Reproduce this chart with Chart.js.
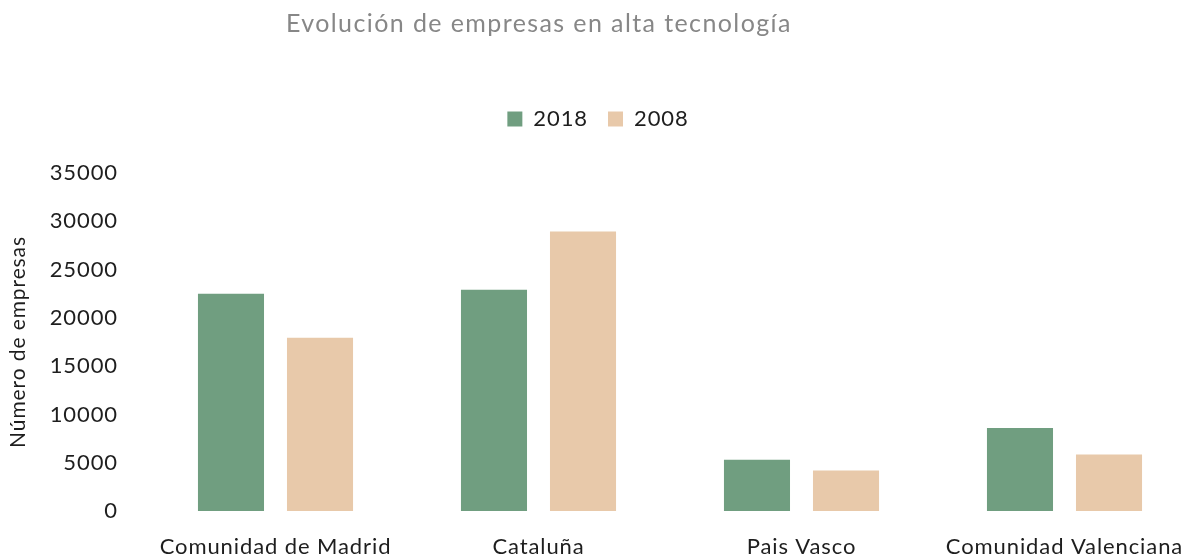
<!DOCTYPE html>
<html>
<head>
<meta charset="utf-8">
<script src="https://cdn.jsdelivr.net/npm/chart.js@4/dist/chart.umd.min.js"></script>
<style>
    body { margin: 0; background: #fff; overflow: hidden; }
    .wrap { position: relative; width: 1190px; height: 560px; overflow: hidden; }
    .title {
        position: absolute; left: 286px; top: 7px;
        font-family: Lato, sans-serif; font-size: 25px; color: #878787;
        letter-spacing: 1.4px; white-space: nowrap;
    }
    canvas { display: block; }
</style>
</head>
<body>
<div class="wrap">
    <div class="title">Evolución de empresas en alta tecnología</div>
    <!-- plot area runs a little past the right edge, as in the original -->
    <canvas class="chart" width="1196" height="560"></canvas>
</div>
<script>
const categories = ['Comunidad de Madrid', 'Cataluña', 'Pais Vasco', 'Comunidad Valenciana'];
const values2018 = [22500, 22900, 5300, 8600];
const values2008 = [17950, 28950, 4200, 5850];
const seriesLabels = ['2018', '2008'];

(() => {
    const el = document.querySelector('.chart');
    const colors = {
        green: 'rgb(112, 158, 128)',
        tan: 'rgb(232, 201, 170)',
        text: '#1e1e1e',
    };

    // canvas has no letter-spacing option in Chart.js, set it on the context
    const spacing = {
        id: 'spacing',
        beforeLayout(chart) { chart.ctx.letterSpacing = '0.9px'; },
        beforeDraw(chart) { chart.ctx.letterSpacing = '0.9px'; },
    };
    // more room under the legend
    const legendGap = {
        id: 'legendGap',
        beforeInit(chart) {
            const fit = chart.legend.fit;
            chart.legend.fit = function() {
                fit.call(this);
                this.height += 33;
            };
        },
    };

    const config = {
        type: 'bar',
        data: {
            labels: categories,
            datasets: [{
                label: seriesLabels[0],
                data: values2018,
                backgroundColor: colors.green,
                categoryPercentage: 0.677,
                barPercentage: 0.742,
            }, {
                label: seriesLabels[1],
                data: values2008,
                backgroundColor: colors.tan,
                categoryPercentage: 0.677,
                barPercentage: 0.742,
            }]
        },
        options: {
            responsive: false,
            animation: false,
            layout: { padding: { top: 88, right: 0, bottom: 0, left: 0 } },
            plugins: {
                title: { display: false },
                tooltip: { enabled: false },
                legend: {
                    labels: {
                        boxWidth: 15, boxHeight: 15, padding: 20,
                        color: colors.text,
                        font: { family: 'Lato', size: 22 },
                    }
                },
            },
            scales: {
                x: {
                    grid: { display: false, drawTicks: false },
                    border: { display: false },
                    ticks: {
                        padding: 23, color: colors.text,
                        maxRotation: 0, autoSkip: false,
                        font: { family: 'Lato', size: 22 },
                    },
                    afterFit(scale) {
                        scale.height = 49;
                        scale.paddingLeft = 0;
                        scale.paddingRight = 0;
                    },
                },
                y: {
                    min: 0, max: 35000,
                    grid: { display: false, drawTicks: false },
                    border: { display: false },
                    ticks: {
                        stepSize: 5000, padding: 26, color: colors.text,
                        font: { family: 'Lato', size: 22 },
                        callback: (v) => String(v),
                    },
                    title: {
                        display: true, text: 'Número de empresas',
                        color: colors.text, padding: 6,
                        font: { family: 'Lato', size: 21 },
                    },
                    afterFit(scale) { scale.width = 144; },
                },
            },
        },
        plugins: [spacing, legendGap],
    };
    const chart = new Chart(el, config);
})();
</script>
</body>
</html>
